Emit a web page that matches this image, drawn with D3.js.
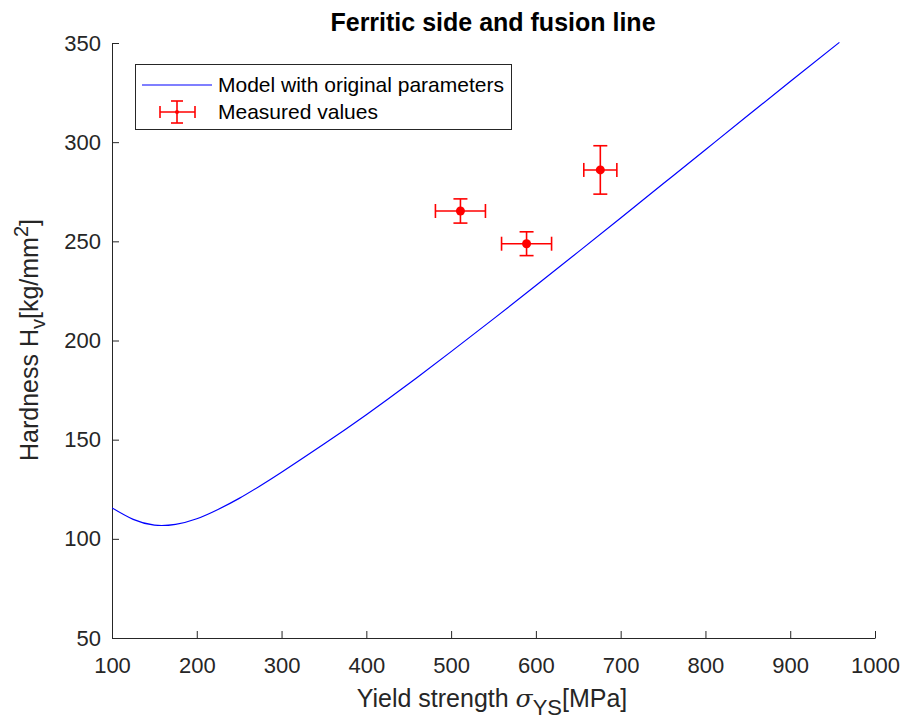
<!DOCTYPE html>
<html><head><meta charset="utf-8">
<script src="https://cdn.jsdelivr.net/npm/d3@7"></script>
<style>body{margin:0;background:#fff}svg{display:block;font-family:"Liberation Sans",Arial,sans-serif}</style>
</head><body><svg id="c" width="903" height="722"></svg>
<script>
const modelX = [100,125,150,175,200,225,250,275,300,350,400,450,500,550,600,650,700,750,800,850,900,958];
const modelY = [115.6,109.8,106.9,107.3,110.1,114.8,120.4,126.8,133.6,147.8,162.6,178.2,194.4,210.9,227.7,244.7,261.8,279.0,296.2,313.4,330.6,350.3];
const measX = [511,589,676];
const measY = [265.3,248.8,286];
const measXErr = [29.5,29.5,19.5];
const measYErr = [6.1,6,12.2];
const xTicks = [100,200,300,400,500,600,700,800,900,1000];
const yTicks = [50,100,150,200,250,300,350];

const svg = d3.select("#c");
const L=112,T=43,R=875,B=638;
const x = d3.scaleLinear().domain([100,1000]).range([L,R]);
const y = d3.scaleLinear().domain([50,350]).range([B,T]);
const axCol="#262626";

const xa = svg.append("g").attr("transform",`translate(0,${B})`)
  .call(d3.axisBottom(x).tickValues(xTicks).tickFormat(d3.format("d")).tickSizeInner(-7).tickSizeOuter(0).tickPadding(19));
const ya = svg.append("g").attr("transform",`translate(${L},0)`)
  .call(d3.axisLeft(y).tickValues(yTicks).tickFormat(d3.format("d")).tickSizeInner(-7).tickSizeOuter(0).tickPadding(11));
[xa,ya].forEach(a=>{
  a.selectAll("path,line").attr("stroke",axCol).attr("stroke-width",1);
  a.selectAll("text").attr("fill",axCol).style("font-size","22px").style("font-family","Liberation Sans, Arial, sans-serif");
});

svg.append("clipPath").attr("id","cl").append("rect").attr("x",L).attr("y",T-2).attr("width",R-L).attr("height",B-T+2);
const pts = modelX.map((v,i)=>[v,modelY[i]]);
svg.append("path").datum(pts).attr("clip-path","url(#cl)")
  .attr("d",d3.line().x(d=>x(d[0])).y(d=>y(d[1])).curve(d3.curveNatural))
  .attr("fill","none").attr("stroke","#0000ff").attr("stroke-width",1.2);

const red="#ff0000";
function errbar(g,cx,cy,hx0,hx1,vy0,vy1,cap){
  g.append("line").attr("x1",hx0).attr("x2",hx1).attr("y1",cy).attr("y2",cy);
  g.append("line").attr("x1",cx).attr("x2",cx).attr("y1",vy0).attr("y2",vy1);
  g.append("line").attr("x1",hx0).attr("x2",hx0).attr("y1",cy-cap).attr("y2",cy+cap);
  g.append("line").attr("x1",hx1).attr("x2",hx1).attr("y1",cy-cap).attr("y2",cy+cap);
  g.append("line").attr("x1",cx-cap).attr("x2",cx+cap).attr("y1",vy0).attr("y2",vy0);
  g.append("line").attr("x1",cx-cap).attr("x2",cx+cap).attr("y1",vy1).attr("y2",vy1);
}
measX.forEach((v,i)=>{
  const g = svg.append("g").attr("stroke",red).attr("stroke-width",1.6);
  errbar(g,x(v),y(measY[i]),x(v-measXErr[i]),x(v+measXErr[i]),y(measY[i]+measYErr[i]),y(measY[i]-measYErr[i]),7);
  svg.append("circle").attr("cx",x(v)).attr("cy",y(measY[i])).attr("r",4.5).attr("fill",red);
});

// Title
svg.append("text").attr("x",493).attr("y",31).attr("text-anchor","middle")
  .style("font-size","25px").style("font-weight","bold").attr("fill","#000").text("Ferritic side and fusion line");

// X label
const xl = svg.append("text").attr("x",492).attr("y",707).attr("text-anchor","middle")
  .style("font-size","25px").attr("fill",axCol);
xl.append("tspan").text("Yield strength ");
xl.append("tspan").style("font-family","DejaVu Serif, serif").style("font-style","italic").text("σ");
xl.append("tspan").attr("dy",8).style("font-size","22px").text("YS");
xl.append("tspan").attr("dy",-8).text("[MPa]");

// Y label
const yl = svg.append("text").attr("transform","translate(38,340) rotate(-90)").attr("text-anchor","middle")
  .style("font-size","25px").attr("fill",axCol);
yl.append("tspan").text("Hardness H");
yl.append("tspan").attr("dy",7).style("font-size","20px").text("v");
yl.append("tspan").attr("dy",-7).text("[kg/mm");
yl.append("tspan").attr("dy",-10).style("font-size","20px").text("2");
yl.append("tspan").attr("dy",10).text("]");

// Legend
const lg = svg.append("g");
lg.append("rect").attr("x",135.5).attr("y",64.5).attr("width",376).attr("height",65)
  .attr("fill","#fff").attr("stroke","#262626").attr("stroke-width",1);
lg.append("line").attr("x1",142).attr("x2",212).attr("y1",85).attr("y2",85).attr("stroke","#0000ff").attr("stroke-width",1.2);
const lg2 = lg.append("g").attr("stroke",red).attr("stroke-width",1.6);
errbar(lg2,177,112,160,195,101,123,6);
lg.append("circle").attr("cx",177).attr("cy",112).attr("r",2).attr("fill",red);
lg.append("text").attr("x",218).attr("y",92).style("font-size","21px").attr("fill","#000").text("Model with original parameters");
lg.append("text").attr("x",218).attr("y",119).style("font-size","21px").attr("fill","#000").text("Measured values");
</script></body></html>
